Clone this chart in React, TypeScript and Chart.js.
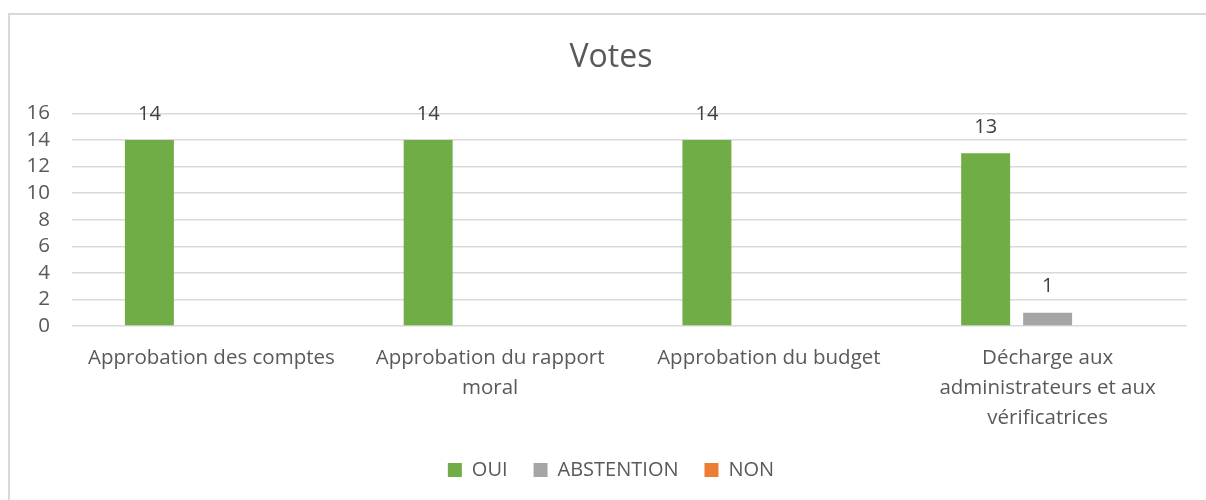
import React, { useEffect, useRef } from "react";
import { Chart, registerables } from "chart.js";

Chart.register(...registerables);

const categories: string[][] = [
  ["Approbation des comptes"],
  ["Approbation du rapport", "moral"],
  ["Approbation du budget"],
  ["Décharge aux", "administrateurs et aux", "vérificatrices"],
];
const seriesNames = ["OUI", "ABSTENTION", "NON"];
const ouiValues = [14, 14, 14, 13];
const abstentionValues = [0, 0, 0, 1];
const nonValues = [0, 0, 0, 0];
const seriesColors = ["#70AD47", "#A5A5A5", "#ED7D31"];
const yTicks = [0, 2, 4, 6, 8, 10, 12, 14, 16];

const FONT = "'Open Sans', 'Noto Sans', sans-serif";
const TICK_SIZE = 20.5;

const dataLabels = {
  id: "dataLabels",
  afterDatasetsDraw(chart: any) {
    const ctx = chart.ctx;
    ctx.save();
    ctx.font = `20px ${FONT}`;
    ctx.fillStyle = "#404040";
    ctx.textAlign = "center";
    ctx.textBaseline = "middle";
    chart.data.datasets.forEach((ds: any, i: number) => {
      const meta = chart.getDatasetMeta(i);
      meta.data.forEach((el: any, j: number) => {
        const v = ds.data[j];
        if (v == null || v === 0) return;
        ctx.fillText(String(v), el.x, el.y - 26);
      });
    });
    ctx.restore();
  },
};

export default function App() {
  const ref = useRef<HTMLCanvasElement | null>(null);
  useEffect(() => {
    if (!ref.current) return;
    const values = [ouiValues, abstentionValues, nonValues];

    // widest y tick label, so the right-aligned labels end 22px left of the plot
    const mctx = document.createElement("canvas").getContext("2d")!;
    mctx.font = `${TICK_SIZE}px ${FONT}`;
    const widest = Math.max(...yTicks.map((v) => mctx.measureText(String(v)).width));

    const chart = new Chart(ref.current, {
      type: "bar",
      data: {
        labels: categories as any,
        datasets: seriesNames.map((name, i) => ({
          label: name,
          data: values[i],
          backgroundColor: seriesColors[i],
          borderWidth: 0,
          categoryPercentage: 0.667,
          barPercentage: 0.79,
        })),
      },
      options: {
        responsive: true,
        maintainAspectRatio: false,
        animation: false,
        layout: { padding: { top: 0, right: 59, bottom: 21, left: 25 } },
        plugins: {
          title: {
            display: true,
            text: "Votes",
            color: "#595959",
            font: { family: FONT, size: 32, weight: "normal" as any },
            padding: { top: 24, bottom: 36 },
          },
          legend: {
            position: "bottom",
            labels: {
              boxWidth: 14,
              boxHeight: 14,
              color: "#595959",
              font: { family: FONT, size: 20 },
              padding: 26,
            },
          },
          tooltip: { enabled: false },
        },
        scales: {
          x: {
            grid: { display: false, drawTicks: false },
            border: { display: false },
            ticks: {
              color: "#595959",
              font: { family: FONT, size: TICK_SIZE, lineHeight: 30 / TICK_SIZE },
              padding: 17,
              maxRotation: 0,
              autoSkip: false,
            },
            afterFit: (s: any) => {
              s.height = 108;
            },
          },
          y: {
            min: 0,
            max: 16,
            afterBuildTicks: (s: any) => {
              s.ticks = yTicks.map((v) => ({ value: v }));
            },
            grid: { color: "#D9D9D9", lineWidth: 1.5, drawTicks: false },
            border: { display: false },
            ticks: {
              color: "#595959",
              font: { family: FONT, size: TICK_SIZE },
              autoSkip: false,
              mirror: true,
              crossAlign: "far",
              padding: -(22 + widest),
            },
            afterFit: (s: any) => {
              s.width = 37;
            },
          },
        },
      },
      plugins: [dataLabels],
    });
    return () => chart.destroy();
  }, []);

  return (
    <div style={{ position: "fixed", inset: 0, overflow: "hidden", background: "#fff" }}>
      <div
        style={{
          position: "absolute",
          left: 8,
          top: 13,
          width: 1240,
          height: 500,
          border: "2px solid #D9D9D9",
          boxSizing: "border-box",
          background: "#fff",
        }}
      >
        <div style={{ position: "relative", width: "100%", height: "100%" }}>
          <canvas ref={ref} />
        </div>
      </div>
    </div>
  );
}
